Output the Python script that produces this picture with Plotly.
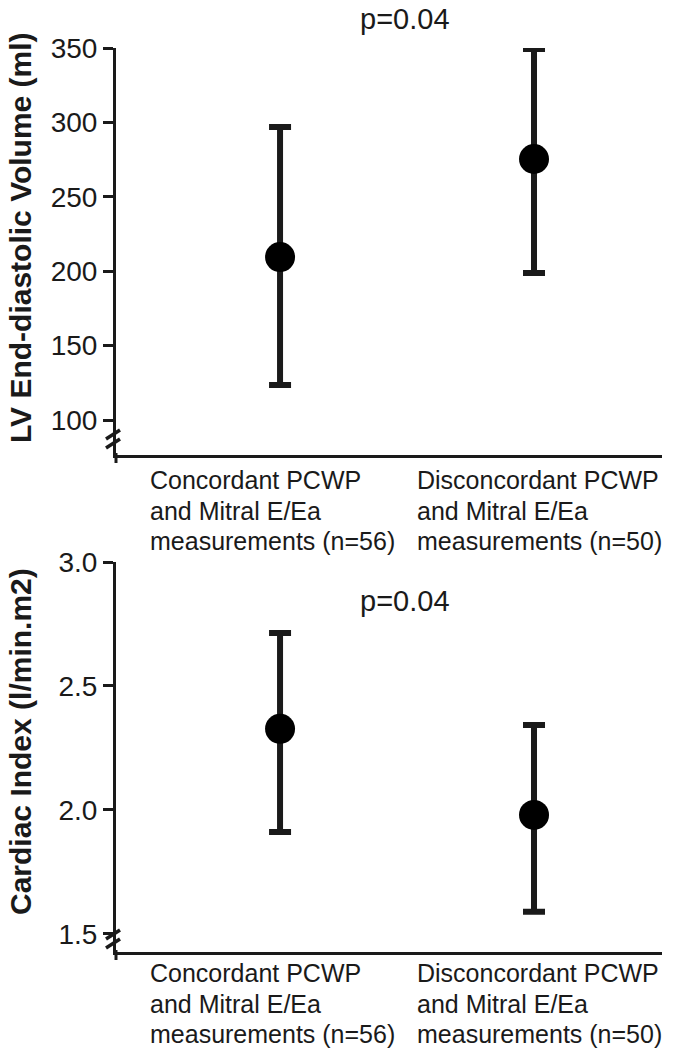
import plotly.graph_objects as go

group_lines = [["Concordant PCWP", "and Mitral E/Ea", "measurements (n=56)"],
               ["Disconcordant PCWP", "and Mitral E/Ea", "measurements (n=50)"]]
group_pos = [0, 1]

lvedv_mean = [209.5, 275.4]
lvedv_upper = [296.9, 349.3]
lvedv_lower = [123.5, 198.8]

ci_mean = [2.327, 1.98]
ci_upper = [2.714, 2.343]
ci_lower = [1.911, 1.589]

lvedv_ticks = [100, 150, 200, 250, 300, 350]
ci_ticks = [1.5, 2.0, 2.5, 3.0]
ci_ticktext = ["1.5", "2.0", "2.5", "3.0"]

title_top = "<b>LV End-diastolic Volume (ml)</b>"
title_bottom = "<b>Cardiac Index (l/min.m2)</b>"
p_top = "p=0.04"
p_bottom = "p=0.04"

W, H = 675, 1050
FONT = "Liberation Sans, Arial, sans-serif"
INK = "#1a1a1a"

fig = go.Figure()

def add_panel(mean, up, lo, xa, ya):
    fig.add_trace(go.Scatter(
        x=group_pos, y=mean, mode="markers", xaxis=xa, yaxis=ya,
        marker=dict(size=30, color="black"),
        error_y=dict(type="data", symmetric=False,
                     array=[u - m for u, m in zip(up, mean)],
                     arrayminus=[m - l for m, l in zip(mean, lo)],
                     thickness=6, width=11, color=INK),
        showlegend=False, hoverinfo="skip"))

add_panel(lvedv_mean, lvedv_upper, lvedv_lower, "x", "y")
add_panel(ci_mean, ci_upper, ci_lower, "x2", "y2")

xdom = [116 / W, 662 / W]
top_dom = [1 - 455 / H, 1 - 48 / H]
bot_dom = [1 - 952 / H, 1 - 562 / H]

xcommon = dict(range=[-0.646, 1.504], showgrid=False, zeroline=False,
               showline=True, linecolor=INK, linewidth=3, ticks="",
               showticklabels=False, fixedrange=True, automargin=False)
ycommon = dict(showgrid=False, zeroline=False, showline=True, linecolor=INK,
               linewidth=3, ticks="outside", ticklen=10, tickwidth=3,
               tickcolor=INK, automargin=False, fixedrange=True,
               tickfont=dict(family=FONT, size=28, color=INK))

fig.update_layout(
    template="none",
    width=W, height=H, margin=dict(l=0, r=0, t=0, b=0, pad=0),
    paper_bgcolor="white", plot_bgcolor="white",
    xaxis=dict(domain=xdom, anchor="y", **xcommon),
    xaxis2=dict(domain=xdom, anchor="y2", **xcommon),
    yaxis=dict(domain=top_dom, anchor="x", range=[76.5, 350],
               tickvals=lvedv_ticks, **ycommon),
    yaxis2=dict(domain=bot_dom, anchor="x2", range=[1.427, 3.0],
                tickvals=ci_ticks, ticktext=ci_ticktext, **ycommon),
)

# y-axis titles
for txt, yc in [(title_top, 238), (title_bottom, 742)]:
    fig.add_annotation(x=20 / W, y=1 - yc / H, xref="paper", yref="paper",
                       text=txt, textangle=-90, showarrow=False,
                       xanchor="center", yanchor="middle",
                       font=dict(family=FONT, size=30, color=INK))

# x category labels (left-aligned blocks, one annotation per line)
label_shift = [-132, -119]
for xa, y_first in [("x", 480), ("x2", 973)]:
    for lines, xp, sh in zip(group_lines, group_pos, label_shift):
        for i, ln in enumerate(lines):
            fig.add_annotation(x=xp, y=1 - (y_first + 30.5 * i) / H,
                               xref=xa, yref="paper", text=ln,
                               showarrow=False, xanchor="left",
                               yanchor="middle", xshift=sh,
                               font=dict(family=FONT, size=25, color=INK))

# p-values
for txt, yc in [(p_top, 19), (p_bottom, 601)]:
    fig.add_annotation(x=405 / W, y=1 - yc / H, xref="paper", yref="paper",
                       text=txt, showarrow=False, xanchor="center",
                       yanchor="middle",
                       font=dict(family=FONT, size=29, color=INK))

# axis break marks and axis stubs
def breaks(y_axis_bottom_px, y1_px):
    ax = 116
    shapes = []
    shapes.append(dict(type="line", xref="paper", yref="paper",
                       x0=ax / W, x1=ax / W,
                       y0=1 - (y_axis_bottom_px - 2) / H,
                       y1=1 - (y_axis_bottom_px + 8) / H,
                       line=dict(color=INK, width=3)))
    for off in (0, 9):
        shapes.append(dict(type="line", xref="paper", yref="paper",
                           x0=(ax - 10) / W, x1=(ax + 4) / W,
                           y0=1 - (y1_px + off + 6) / H,
                           y1=1 - (y1_px + off - 3) / H,
                           line=dict(color=INK, width=3.5)))
    return shapes

for s in breaks(455, 433) + breaks(952, 933):
    fig.add_shape(**s)

fig.write_html("out.html", config={"displayModeBar": False},
               post_script="document.body.style.margin='0';")
